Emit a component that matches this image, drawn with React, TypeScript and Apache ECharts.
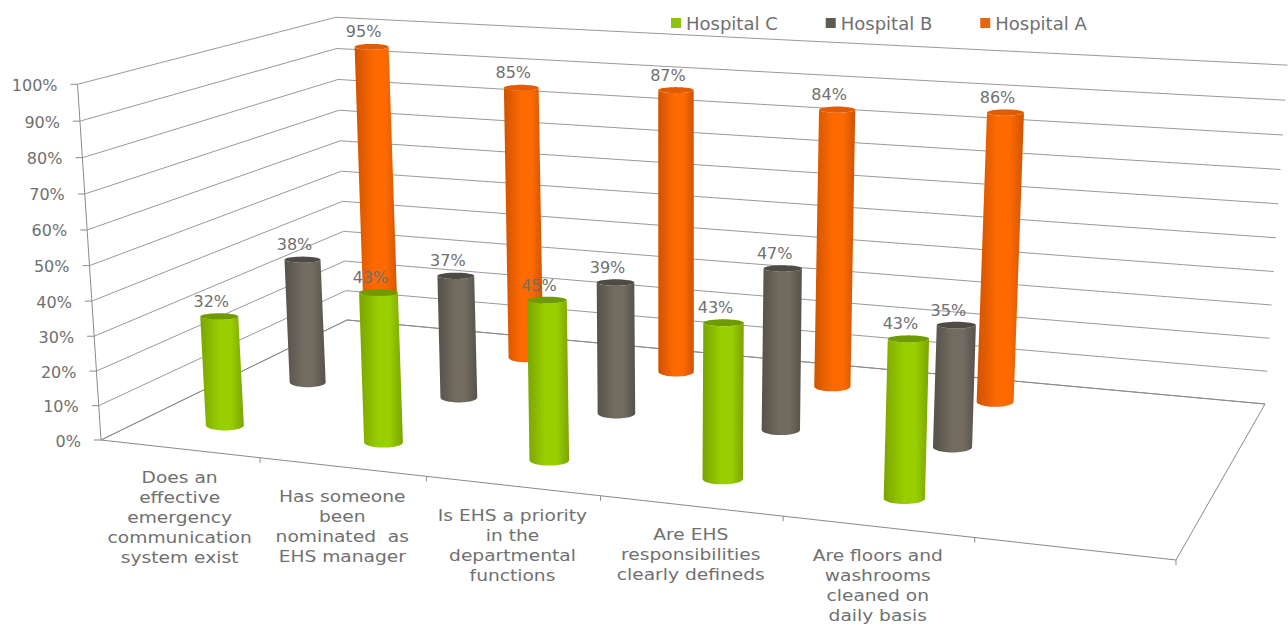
import React, { useEffect, useRef } from "react";
import * as echarts from "echarts";

// Question labels; the sixth slot is an empty band at the right of the floor.
const categories = [
  "Does an\neffective\nemergency\ncommunication\nsystem exist",
  "Has someone\nbeen\nnominated  as\nEHS manager",
  "Is EHS a priority\nin the\ndepartmental\nfunctions",
  "Are EHS\nresponsibilities\nclearly defineds",
  "Are floors and\nwashrooms\ncleaned on\ndaily basis",
  "",
];
const hospitalC = [32, 43, 45, 43, 43];
const hospitalB = [38, 37, 39, 47, 35];
const hospitalA = [95, 85, 87, 84, 86];
const valueTicks = [0, 10, 20, 30, 40, 50, 60, 70, 80, 90, 100];

const FONT = "'DejaVu Sans'";
const TEXT_COLOR = "#707070";
const LINE_COLOR = "#9a9a9a";
const AXIS_COLOR = "#8a8a8a";

// Camera matrix: (u along the categories, v into the depth, w up) to the screen.
const CAMERA = [
  [920, 309.8, -26.5, 101],
  [46.2, -61.2, -359, 440],
  [-0.1318, 0.1838, -0.039, 1],
];

function project(u: number, v: number, w: number): [number, number] {
  const [a, b, c] = CAMERA;
  const d = c[0] * u + c[1] * v + c[2] * w + c[3];
  return [
    (a[0] * u + a[1] * v + a[2] * w + a[3]) / d,
    (b[0] * u + b[1] * v + b[2] * w + b[3]) / d,
  ];
}

// Reads the axis scales and returns normalised floor and height positions.
function normalised(params: any, api: any, cat: number, value: number) {
  const cs = params.coordSys;
  const p = api.coord([cat, value]);
  return { u: (p[0] - cs.x) / cs.width, w: 1 - (p[1] - cs.y) / cs.height };
}

const TOP_ELLIPSE_RATIO = 0.17;
const BASE_ELLIPSE_RATIO = 0.27;

// Half width of a cylinder: narrower towards the back, wider towards the right.
function halfWidth(u: number, v: number) {
  const depthShare = (v - 1 / 6) / (2 / 3);
  return (19 - 2 * depthShare) * (1 + 0.13 * (u - 1 / 12));
}

function ellipsePoints(
  u: number,
  v: number,
  w: number,
  ratio: number,
  from: number,
  to: number,
  steps = 24,
) {
  const c = project(u, v, w);
  const rx = halfWidth(u, v);
  const ry = rx * ratio;
  const pts: number[][] = [];
  for (let i = 0; i <= steps; i++) {
    const t = from + ((to - from) * i) / steps;
    pts.push([c[0] + rx * Math.cos(t), c[1] + ry * Math.sin(t)]);
  }
  return pts;
}

function cylinderRenderer(
  depth: number,
  edge: string,
  mid: string,
  cap: string,
) {
  return (params: any, api: any) => {
    const cat = api.value(0);
    const value = api.value(1);
    const { u } = normalised(params, api, cat, 0);
    const top = normalised(params, api, cat, value).w;
    // Lower half of the base, then the lower half of the top, reversed.
    const base = ellipsePoints(u, depth, 0, BASE_ELLIPSE_RATIO, Math.PI, 0);
    const upper = ellipsePoints(u, depth, top, TOP_ELLIPSE_RATIO, 0, Math.PI);
    const rim = ellipsePoints(u, depth, top, TOP_ELLIPSE_RATIO, 0, Math.PI * 2, 40);
    const centre = project(u, depth, top);
    return {
      type: "group",
      children: [
        {
          type: "polygon",
          shape: { points: [...base, ...upper] },
          style: {
            fill: new echarts.graphic.LinearGradient(0, 0, 1, 0, [
              { offset: 0, color: edge },
              { offset: 0.45, color: mid },
              { offset: 0.7, color: mid },
              { offset: 1, color: edge },
            ]),
          },
        },
        { type: "polygon", shape: { points: rim }, style: { fill: cap } },
        {
          type: "text",
          x: centre[0] - 8,
          y: centre[1] - 15,
          style: {
            text: `${value}%`,
            fontFamily: FONT,
            fontSize: 16,
            fill: TEXT_COLOR,
            align: "center",
            verticalAlign: "middle",
          },
        },
      ],
    };
  };
}

// Floor outline, wall gridlines and the value labels.
function renderValueTick(params: any, api: any) {
  const { w } = normalised(params, api, 0, api.value(0));
  const front = project(0, 0, w);
  const children: any[] = [
    {
      type: "polyline",
      shape: { points: [front, project(0, 1, w), project(1, 1, w)] },
      style: { stroke: LINE_COLOR, lineWidth: 1, fill: "none" },
    },
    {
      type: "line",
      shape: { x1: front[0] - 7, y1: front[1], x2: front[0], y2: front[1] },
      style: { stroke: AXIS_COLOR, lineWidth: 1 },
    },
    {
      type: "text",
      x: front[0] - 20,
      y: front[1] + 1,
      style: {
        text: `${api.value(0)}%`,
        fontFamily: FONT,
        fontSize: 16,
        fill: TEXT_COLOR,
        align: "right",
        verticalAlign: "middle",
      },
    },
  ];
  if (params.dataIndex === 0) {
    children.push(
      {
        type: "polygon",
        shape: {
          points: [
            project(0, 0, 0),
            project(1, 0, 0),
            project(1, 1, 0),
            project(0, 1, 0),
          ],
        },
        style: { stroke: AXIS_COLOR, lineWidth: 1, fill: "none" },
      },
      {
        type: "line",
        shape: (() => {
          const a = project(0, 0, 0);
          const b = project(0, 0, 1);
          return { x1: a[0], y1: a[1], x2: b[0], y2: b[1] };
        })(),
        style: { stroke: AXIS_COLOR, lineWidth: 1 },
      },
    );
  }
  return { type: "group", children };
}

// Category boundary ticks on the front edge, with the wrapped question below.
function renderCategory(params: any, api: any) {
  const cat = api.value(0);
  const { u } = normalised(params, api, cat, 0);
  const right = project(u + 0.5 / categories.length, 0, 0);
  const mid = project(u, 0, 0);
  return {
    type: "group",
    children: [
      {
        type: "line",
        shape: { x1: right[0], y1: right[1], x2: right[0], y2: right[1] + 5 },
        style: { stroke: AXIS_COLOR, lineWidth: 1 },
      },
      {
        type: "text",
        x: mid[0],
        y: mid[1] + 19,
        scaleX: 1.13,
        style: {
          text: categories[cat],
          fontFamily: FONT,
          fontSize: 16.5,
          lineHeight: 20,
          fill: TEXT_COLOR,
          align: "center",
          verticalAlign: "top",
        },
      },
    ],
  };
}

const barData = (values: number[]) => values.map((v, i) => [i, v]);

export default function App() {
  const ref = useRef<HTMLDivElement>(null);

  useEffect(() => {
    document.body.style.margin = "0";
    const chart = echarts.init(ref.current!, undefined, { renderer: "svg" });
    chart.setOption({
      animation: false,
      backgroundColor: "#ffffff",
      legend: {
        data: ["Hospital C", "Hospital B", "Hospital A"],
        left: 666,
        top: 9,
        icon: "rect",
        itemWidth: 10,
        itemHeight: 10,
        itemGap: 48,
        selectedMode: false,
        textStyle: { fontFamily: FONT, fontSize: 18, color: TEXT_COLOR },
      },
      grid: { left: 0, right: 0, top: 0, bottom: 0 },
      xAxis: {
        type: "category",
        show: false,
        data: categories.map((_, i) => i),
      },
      yAxis: { type: "value", show: false, min: 0, max: 100, interval: 10 },
      series: [
        {
          type: "custom",
          name: "walls",
          renderItem: renderValueTick,
          encode: { y: 0 },
          data: valueTicks.map((t) => [t]),
          silent: true,
        },
        {
          type: "custom",
          name: "questions",
          renderItem: renderCategory,
          encode: { x: 0 },
          data: categories.map((_, i) => [i]),
          silent: true,
        },
        {
          type: "custom",
          name: "Hospital A",
          renderItem: cylinderRenderer(5 / 6, "#cf5300", "#ff6a00", "#e25b00"),
          encode: { x: 0, y: 1 },
          data: barData(hospitalA),
          itemStyle: { color: "#e8650f" },
          silent: true,
        },
        {
          type: "custom",
          name: "Hospital B",
          renderItem: cylinderRenderer(1 / 2, "#56524a", "#716b60", "#4e4b44"),
          encode: { x: 0, y: 1 },
          data: barData(hospitalB),
          itemStyle: { color: "#5f5b52" },
          silent: true,
        },
        {
          type: "custom",
          name: "Hospital C",
          renderItem: cylinderRenderer(1 / 6, "#7ba400", "#99cf00", "#6f9a00"),
          encode: { x: 0, y: 1 },
          data: barData(hospitalC),
          itemStyle: { color: "#8fc400" },
          silent: true,
        },
      ],
    });
    return () => chart.dispose();
  }, []);

  return <div ref={ref} style={{ width: 1288, height: 628 }} />;
}
